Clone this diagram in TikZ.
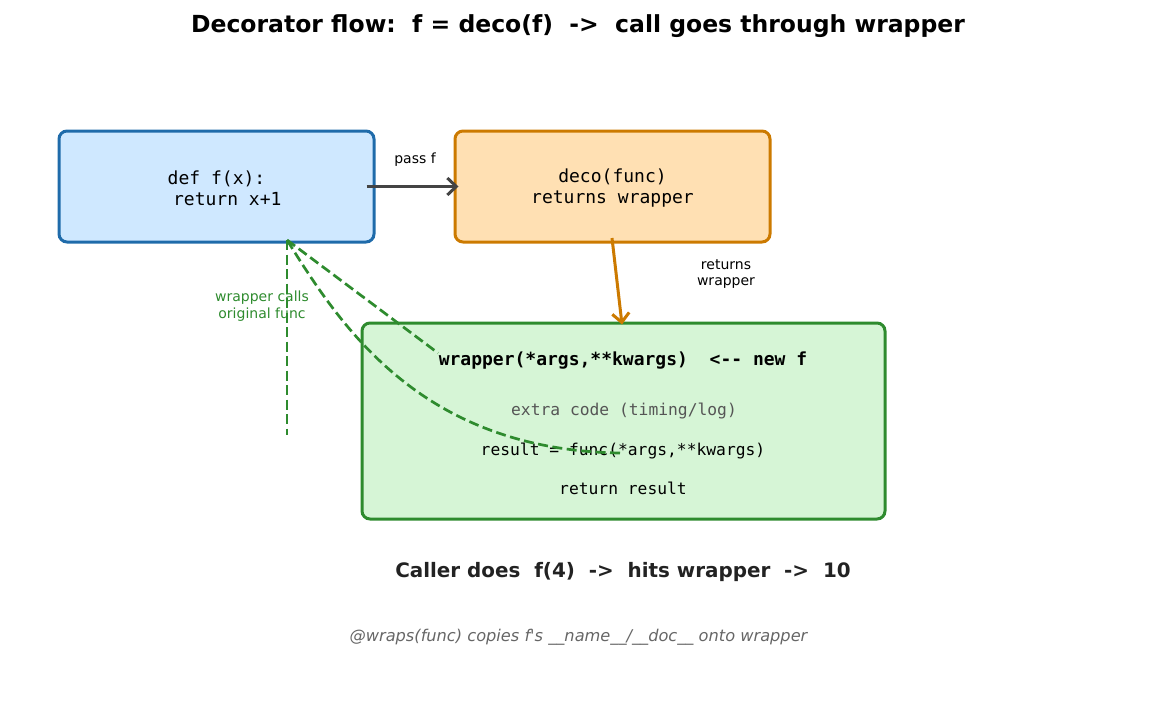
\documentclass[tikz,border=0pt]{standalone}
\usepackage{fontspec}
\setmainfont{DejaVu Sans}
\setmonofont{DejaVu Sans Mono}
\usetikzlibrary{arrows.meta}
\definecolor{bluebd}{HTML}{1F6BAA}
\definecolor{bluefill}{HTML}{CFE8FF}
\definecolor{orangebd}{HTML}{CC7A00}
\definecolor{orangefill}{HTML}{FFE0B3}
\definecolor{greenbd}{HTML}{2E8B2E}
\definecolor{greenfill}{HTML}{D6F5D6}
\definecolor{arrowgray}{HTML}{444444}
\definecolor{darktext}{HTML}{222222}
\definecolor{graytext}{HTML}{555555}
\definecolor{notegray}{HTML}{666666}
\tikzset{
  box/.style={draw, line width=3pt, rounded corners=8pt, inner sep=0pt},
  codetext/.style={font=\fontsize{18}{21}\selectfont\ttfamily, align=center, inner sep=0pt},
  smalltext/.style={font=\fontsize{14}{16.5}\selectfont, align=center, inner sep=0pt},
  flowarrow/.style={line width=3pt, -{Straight Barb[length=9pt,width=17pt,line width=3pt]}},
  greendash/.style={draw=greenbd, line width=2.7pt, dash pattern=on 10pt off 4.5pt}
}
\begin{document}
\begin{tikzpicture}[x=1pt,y=-1pt]
\useasboundingbox (0,0) rectangle (1156,701);

\node[inner sep=0pt, font=\fontsize{23.5}{28}\selectfont\bfseries] (title) at (578,26)
  {Decorator flow:\ \ f = deco(f)\ \ ->\ \ call goes through wrapper};

\node[box, draw=bluebd, fill=bluefill, minimum width=315pt, minimum height=111pt] (f) at (216.5,186.5) {};
\node[codetext] (ftext) at (216.5,188) {def f(x):\\\hspace*{1.2em}return x+1};

\node[box, draw=orangebd, fill=orangefill, minimum width=315pt, minimum height=111pt] (deco) at (612.5,186.5) {};
\node[codetext] (decotext) at (612.5,188) {deco(func)\\returns wrapper};

\node[box, draw=greenbd, fill=greenfill, minimum width=523pt, minimum height=196pt] (wrapper) at (623.5,421) {};
\node[codetext, font=\fontsize{18}{21}\selectfont\ttfamily\bfseries] (wsig) at (623,361) {wrapper(*args,**kwargs)\ \ <-- new f};
\node[codetext, font=\fontsize{16.3}{19}\selectfont\ttfamily, text=graytext] (wextra) at (624,411) {extra code (timing/log)};
\node[codetext, font=\fontsize{16.3}{19}\selectfont\ttfamily] (wcall) at (623,451) {result = func(*args,**kwargs)};
\node[codetext, font=\fontsize{16.3}{19}\selectfont\ttfamily] (wret) at (623,488) {return result};

% pass f arrow
\draw[flowarrow, arrowgray] ([xshift=-9pt]f.east) -- ([xshift=5pt]deco.west);
\node[smalltext] (passf) at (415,160) {pass f};

% returns wrapper arrow
\coordinate (ostart) at (612,238);
\draw[flowarrow, orangebd] (ostart) -- ([xshift=-1.5pt,yshift=-3pt]wrapper.north);
\node[smalltext] (retw) at (726,274) {returns\\wrapper};

% wrapper calls original func
\node[smalltext, text=greenbd] (callorig) at (262,306) {wrapper calls\\original func};
\coordinate (gtip) at (287,240);
\coordinate (gcall) at (620,453);
\coordinate (gbar1) at (287,435);
\coordinate (gbar2) at (438,353);
\draw[greendash] (gcall) .. controls (420,450) and (340,325) .. (gtip);
\draw[greendash] (gtip) -- (gbar1);
\draw[greendash] (gtip) -- (gbar2);

\node[inner sep=0pt, font=\fontsize{19.9}{23}\selectfont\bfseries, text=darktext] (caller) at (623,572)
  {Caller does\ \ f(4)\ \ ->\ \ hits wrapper\ \ ->\ \ 10};
\node[inner sep=0pt, font=\fontsize{16.2}{19}\selectfont\itshape, text=notegray] (wraps) at (578.5,637)
  {@wraps(func) copies f\textquotesingle s \_\_name\_\_/\_\_doc\_\_ onto wrapper};
\end{tikzpicture}
\end{document}
